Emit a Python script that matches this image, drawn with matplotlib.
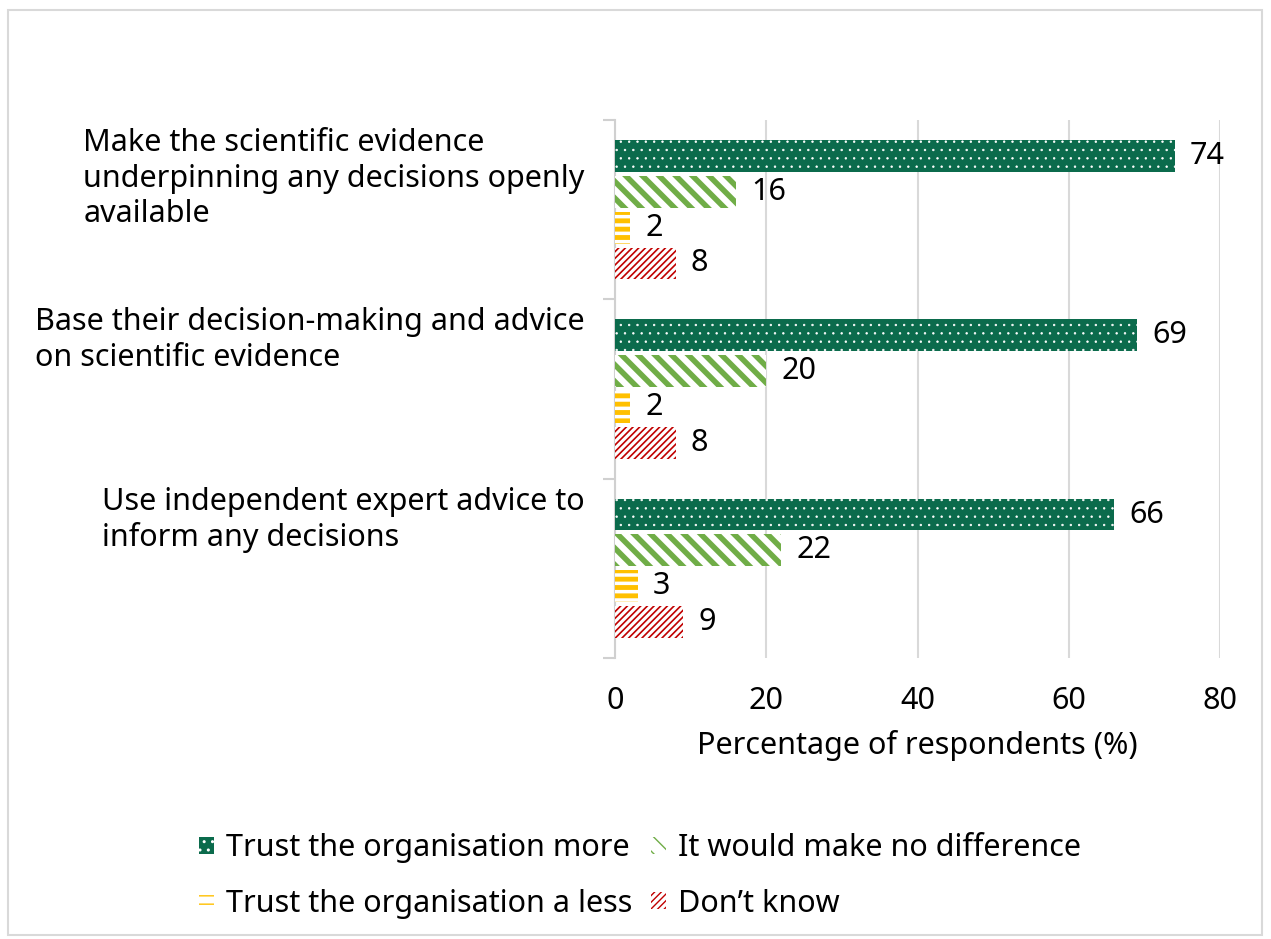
import matplotlib
matplotlib.use("Agg")
import matplotlib.pyplot as plt
from matplotlib.patches import Rectangle
import numpy as np

categories = [
    "Make the scientific evidence\nunderpinning any decisions openly\navailable",
    "Base their decision-making and advice\non scientific evidence",
    "Use independent expert advice to\ninform any decisions",
]
series_names = [
    "Trust the organisation more",
    "It would make no difference",
    "Trust the organisation a less",
    "Don\u2019t know",
]
trust_more = [74, 69, 66]
no_difference = [16, 20, 22]
trust_less = [2, 2, 3]
dont_know = [8, 8, 9]

plt.rcParams['font.family'] = ['Noto Sans', 'DejaVu Sans']
FS = 22

# face, edge(hatch colour), hatch, hatch linewidth
styles = [
    ("#0b6b4c", "white", "..", 0.5),
    ("white", "#70ad47", "\\\\", 4.0),
    ("white", "#ffc000", "--", 3.5),
    ("white", "#c00000", "/////", 1.2),
]

fig = plt.figure(figsize=(12.71, 9.39), dpi=100)
fig.patches.append(Rectangle((8 / 1271, 4 / 939), 1254 / 1271, 925 / 939,
                             transform=fig.transFigure, fill=False,
                             edgecolor="#d9d9d9", linewidth=1.5))

ax = fig.add_axes([615 / 1271, 1 - 658 / 939, 605 / 1271, 538 / 939])

y = np.arange(len(categories))
offsets = [-0.3, -0.1, 0.1, 0.3]
handles = []
for vals, off, (fc, ec, hatch, hlw), name in zip(
        [trust_more, no_difference, trust_less, dont_know], offsets, styles, series_names):
    with plt.rc_context({'hatch.linewidth': hlw}):
        bars = ax.barh(y + off, vals, height=0.178, color=fc, edgecolor=ec,
                       hatch=hatch, linewidth=0, label=name, zorder=3)
    handles.append(bars)
    for yy, v in zip(y + off, vals):
        ax.text(v + 2.0, yy, str(v), va="center", ha="left", fontsize=FS)

ax.set_xlim(0, 80)
ax.set_ylim(2.5, -0.5)
ax.set_xticks([0, 20, 40, 60, 80])
ax.tick_params(axis="x", length=0, labelsize=FS, pad=20)
ax.set_yticks([])
ax.set_yticks([-0.5, 0.5, 1.5, 2.5], minor=True)
ax.tick_params(axis="y", which="minor", length=9, color="#d0d0d0", width=1.5)
ax.grid(axis="x", color="#d9d9d9", linewidth=1.5, zorder=0)
for s in ["top", "right", "bottom"]:
    ax.spines[s].set_visible(False)
ax.spines["left"].set_color("#d0d0d0")
ax.spines["left"].set_linewidth(1.5)
ax.set_xlabel("Percentage of respondents (%)", fontsize=FS, labelpad=10)

for i, cat in enumerate(categories):
    ax.text(-0.05, i - 0.5 + 0.045, cat, transform=ax.get_yaxis_transform(),
            ha="right", va="top", multialignment="left", fontsize=FS,
            linespacing=1.24)

# legend filled column-wise, so order gives rows: more / no diff, less / don't know
order = [0, 2, 1, 3]
fig.legend(handles=[handles[i] for i in order],
           labels=[series_names[i] for i in order], ncol=2, loc="center",
           bbox_to_anchor=(640 / 1271, 1 - 876 / 939), frameon=False,
           fontsize=FS, handlelength=0.5, handleheight=0.5, handletextpad=0.4,
           columnspacing=0.6, labelspacing=0.82)

fig.savefig("out.png", dpi=100)
